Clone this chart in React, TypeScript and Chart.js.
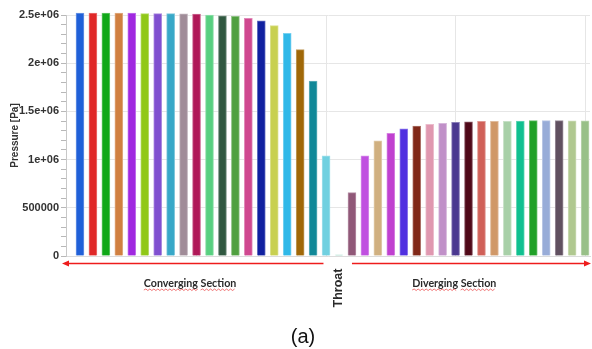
import React, { useEffect, useRef } from 'react';
import { Chart, registerables } from 'chart.js';

Chart.register(...registerables);

const stations = [
  1, 2, 3, 4, 5, 6, 7, 8, 9, 10,
  11, 12, 13, 14, 15, 16, 17, 18, 19, 20,
  21, 22, 23, 24, 25, 26, 27, 28, 29, 30,
  31, 32, 33, 34, 35, 36, 37, 38, 39, 40,
];

const pressure = [
  2520000, 2520000, 2520000, 2520000, 2520000, 2515000, 2515000, 2515000, 2512000, 2510000,
  2500000, 2492000, 2485000, 2466000, 2440000, 2390000, 2310000, 2140000, 1815000, 1040000,
  12000, 657000, 1040000, 1196000, 1273000, 1320000, 1349000, 1366000, 1376000, 1387000,
  1393000, 1397000, 1397000, 1398000, 1400000, 1405000, 1405000, 1405000, 1403000, 1403000,
];

const barColors = [
  '#2060d8', '#e02828', '#10a818', '#d08040', '#a028e0', '#90c818', '#8050d0', '#38a8c8', '#a08c98', '#b01858',
  '#58d080', '#305840', '#50a040', '#d04890', '#1020a0', '#c8d050', '#30b8e8', '#a06808', '#108898', '#70d0e0',
  '#b0e0d0', '#905878', '#c050e0', '#d0b080', '#c040d0', '#5030e0', '#802818', '#e098b0', '#c090c8', '#4a3890',
  '#500818', '#d06058', '#d09868', '#a8d0a8', '#10c090', '#20a028', '#98acd8', '#605060', '#b0c890', '#98c088',
];

const yTickValues = [0, 500000, 1000000, 1500000, 2000000, 2500000];
const yTickLabels = ['0', '500000', '1e+06', '1.5e+06', '2e+06', '2.5e+06'];
const xGridStations = [10, 20, 30, 40];

const sectionLabels = ['Converging Section', 'Throat', 'Diverging Section'];
const panelLabel = '(a)';

function lighten(hex: string, amt: number): string {
  const n = parseInt(hex.slice(1), 16);
  const r = (n >> 16) & 255, g = (n >> 8) & 255, b = n & 255;
  const f = (c: number) => Math.round(c + (255 - c) * amt);
  return `rgb(${f(r)},${f(g)},${f(b)})`;
}

function wavy(ctx: CanvasRenderingContext2D, x1: number, x2: number, y: number) {
  ctx.save();
  ctx.strokeStyle = 'rgba(230,40,40,0.8)';
  ctx.lineWidth = 0.8;
  ctx.beginPath();
  let up = true;
  ctx.moveTo(x1, y);
  for (let x = x1 + 2; x <= x2; x += 2) {
    ctx.lineTo(x, up ? y - 1 : y + 0.5);
    up = !up;
  }
  ctx.stroke();
  ctx.restore();
}

function arrow(ctx: CanvasRenderingContext2D, xFrom: number, xTip: number, y: number) {
  const dir = xTip > xFrom ? 1 : -1;
  ctx.save();
  ctx.strokeStyle = '#ee1c1c';
  ctx.fillStyle = '#ee1c1c';
  ctx.lineWidth = 1.6;
  ctx.beginPath();
  ctx.moveTo(xFrom, y);
  ctx.lineTo(xTip - dir * 5, y);
  ctx.stroke();
  ctx.beginPath();
  ctx.moveTo(xTip, y);
  ctx.lineTo(xTip - dir * 7, y - 3);
  ctx.lineTo(xTip - dir * 7, y + 3);
  ctx.closePath();
  ctx.fill();
  ctx.restore();
}

const annotationPlugin = {
  id: 'nozzleAnnotations',
  afterDraw(chart: any) {
    const ctx: CanvasRenderingContext2D = chart.ctx;
    const xs = chart.scales.x;
    const area = chart.chartArea;
    const yArrow = area.bottom + 7.5;
    arrow(ctx, xs.getPixelForValue(19.8), area.left - 4, yArrow);
    arrow(ctx, xs.getPixelForValue(22), area.right + 1, yArrow);

    ctx.save();
    ctx.fillStyle = '#2a2a2a';
    ctx.textBaseline = 'alphabetic';
    ctx.textAlign = 'left';
    ctx.font = 'bold 10.7px "Lato"';
    const drawSection = (text: string, cx: number, base: number) => {
      const w = ctx.measureText(text).width;
      const x0 = cx - w / 2;
      ctx.fillText(text, x0, base);
      const words = text.split(' ');
      let x = x0;
      words.forEach((wd) => {
        const ww = ctx.measureText(wd).width;
        wavy(ctx, x, x + ww, base + 3);
        x += ww + ctx.measureText(' ').width;
      });
    };
    drawSection(sectionLabels[0], xs.getPixelForValue(9.5), 287);
    drawSection(sectionLabels[2], xs.getPixelForValue(29.9), 287);

    ctx.font = 'bold 12.5px Arial, "Liberation Sans"';
    ctx.translate(xs.getPixelForValue(21), 288);
    ctx.rotate(-Math.PI / 2);
    ctx.textAlign = 'center';
    ctx.textBaseline = 'middle';
    ctx.fillText(sectionLabels[1], 0, 0);
    ctx.restore();

    ctx.save();
    ctx.fillStyle = '#111';
    ctx.font = '20px Arial, "Liberation Sans"';
    ctx.textAlign = 'center';
    ctx.textBaseline = 'middle';
    ctx.fillText(panelLabel, 303, 337);
    ctx.restore();
  },
};

export default function App() {
  const ref = useRef<HTMLCanvasElement | null>(null);

  useEffect(() => {
    if (!ref.current) return;
    const points = stations.map((s, i) => ({ x: s, y: pressure[i] }));
    const chart = new Chart(ref.current, {
      type: 'bar',
      data: {
        datasets: [
          {
            data: points as any,
            backgroundColor: barColors,
            borderColor: barColors.map((c) => lighten(c, 0.35)),
            borderWidth: 1,
            borderSkipped: 'bottom',
            barThickness: 8,
            clip: false as any,
          },
        ],
      },
      options: {
        animation: false,
        responsive: false,
        layout: { padding: { top: 15, bottom: 93, left: 0, right: 2 } },
        plugins: { legend: { display: false }, tooltip: { enabled: false } },
        scales: {
          x: {
            type: 'linear',
            offset: false,
            min: -0.08,
            max: 40.38,
            afterBuildTicks: (s: any) => {
              s.ticks = xGridStations.map((v) => ({ value: v }));
            },
            afterFit: (s: any) => {
              s.height = 0;
            },
            ticks: { display: false },
            grid: { color: '#e6e6e6', drawTicks: false, offset: false },
            border: { display: true, color: '#dcdcdc' },
          },
          y: {
            min: 0,
            max: 2500000,
            afterFit: (s: any) => {
              s.width = 66;
            },
            ticks: {
              stepSize: 100000,
              autoSkip: false,
              padding: 2,
              color: '#333',
              font: { family: 'Arial, "Liberation Sans"', size: 11, weight: 'bold' },
              callback: (v: any) => {
                const i = yTickValues.indexOf(Math.round(Number(v)));
                return i >= 0 ? yTickLabels[i] : '';
              },
            },
            grid: {
              color: (c: any) =>
                c.tick && yTickValues.indexOf(Math.round(c.tick.value)) >= 0 ? '#e6e6e6' : 'rgba(0,0,0,0)',
              tickColor: '#b8b8b8',
              tickLength: 5,
            },
            border: { display: true, color: '#c8c8c8' },
            title: {
              display: true,
              text: 'Pressure [Pa]',
              color: '#333',
              padding: { top: 9, bottom: 0 },
              font: { family: 'Arial, "Liberation Sans"', size: 10, weight: 'bold' },
            },
          },
        },
      },
      plugins: [annotationPlugin],
    });
    return () => chart.destroy();
  }, []);

  return (
    <div style={{ position: 'absolute', left: 0, top: 0, width: 592, height: 349, background: '#fff' }}>
      <canvas ref={ref} width={592} height={349} style={{ width: 592, height: 349, display: 'block' }} />
    </div>
  );
}
